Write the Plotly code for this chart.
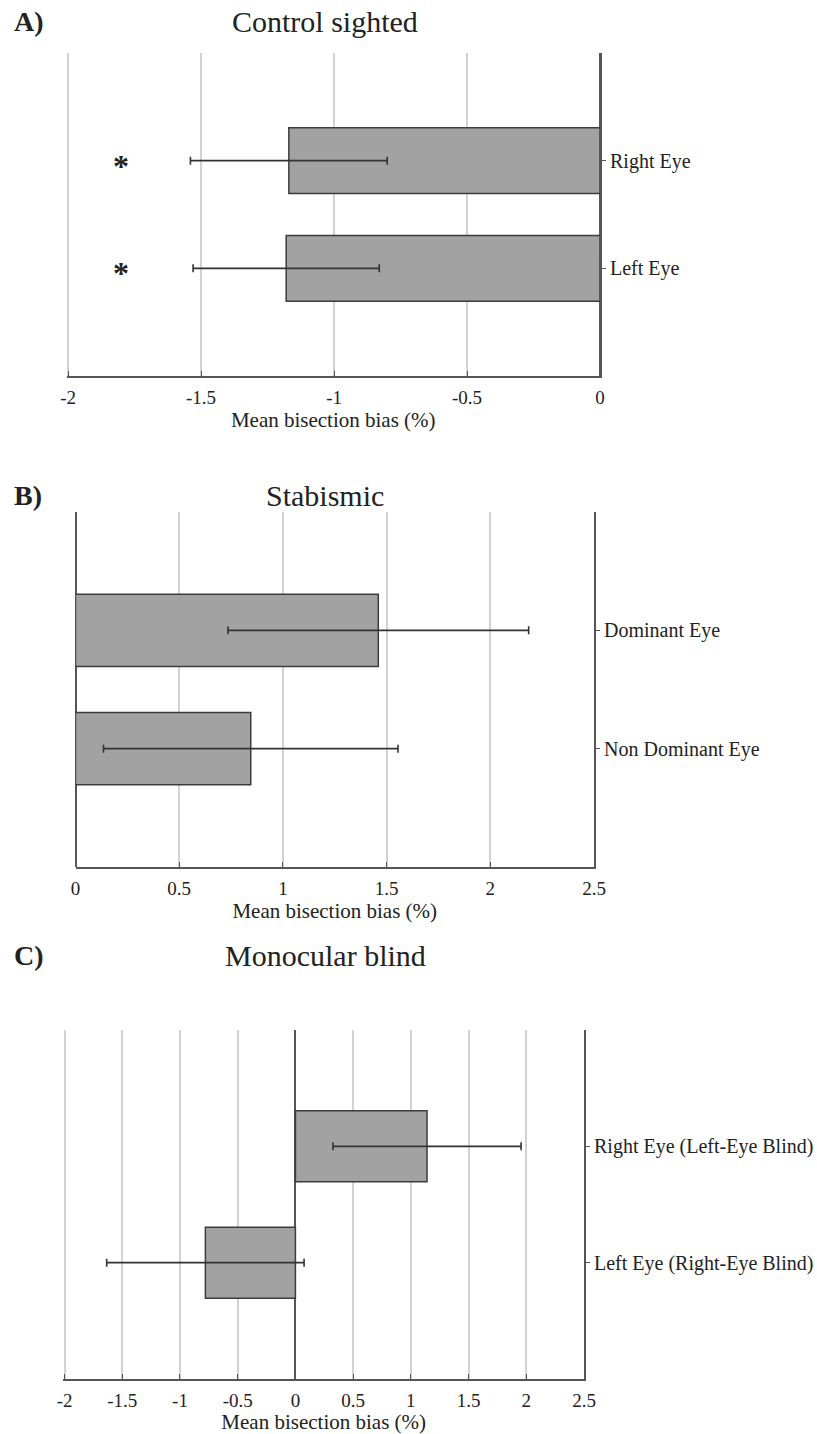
import plotly.graph_objects as go

W, H = 817, 1434
FONT = "'Liberation Serif', 'Times New Roman', Times, serif"

# ---------------- Data ----------------
# Panel A: Control sighted
a_cats = ["Left Eye", "Right Eye"]
a_vals = [-1.18, -1.17]
a_err = [0.35, 0.37]
a_sig_x = [-1.80, -1.80]
a_sig_text = ["*", "*"]
a_ticks = [-2, -1.5, -1, -0.5, 0]
a_ticklabels = ["-2", "-1.5", "-1", "-0.5", "0"]

# Panel B: Stabismic
b_cats = ["Non Dominant Eye", "Dominant Eye"]
b_vals = [0.845, 1.46]
b_err = [0.71, 0.725]
b_ticks = [0, 0.5, 1, 1.5, 2, 2.5]
b_ticklabels = ["0", "0.5", "1", "1.5", "2", "2.5"]

# Panel C: Monocular blind
c_cats = ["Left Eye (Right-Eye Blind)", "Right Eye (Left-Eye Blind)"]
c_vals = [-0.78, 1.14]
c_err = [0.855, 0.815]
c_ticks = [-2, -1.5, -1, -0.5, 0, 0.5, 1, 1.5, 2, 2.5]
c_ticklabels = ["-2", "-1.5", "-1", "-0.5", "0", "0.5", "1", "1.5", "2", "2.5"]

panel_letters = ["A)", "B)", "C)"]
panel_titles = ["Control sighted", "Stabismic", "Monocular blind"]
x_title = "Mean bisection bias (%)"

# ---------------- Styles ----------------
BAR_FILL = "#a2a2a2"
BAR_LINE = "#3c3c3c"
ERR_COL = "#333333"
GRID = "#d2d2d2"
AXL = "#555555"
TXT = "#222222"


def px_x(p):
    return p / W


def px_y(p):
    return 1 - p / H


fig = go.Figure()

panels = [
    dict(cats=a_cats, vals=a_vals, err=a_err, ticks=a_ticks, labels=a_ticklabels,
         rng=[-2.006, 0], xd=[66.5, 600], yd=[53, 376]),
    dict(cats=b_cats, vals=b_vals, err=b_err, ticks=b_ticks, labels=b_ticklabels,
         rng=[0, 2.5], xd=[75.5, 594], yd=[512, 867]),
    dict(cats=c_cats, vals=c_vals, err=c_err, ticks=c_ticks, labels=c_ticklabels,
         rng=[-2.01, 2.5], xd=[63.4, 584], yd=[1030, 1379]),
]

layout_axes = {}
for i, p in enumerate(panels):
    n = "" if i == 0 else str(i + 1)
    fig.add_trace(go.Bar(
        x=p["vals"], y=p["cats"], orientation="h",
        xaxis="x" + n, yaxis="y" + n, width=0.61,
        marker=dict(color=BAR_FILL, line=dict(color=BAR_LINE, width=1.5)),
        error_x=dict(type="data", array=p["err"], symmetric=True,
                     color=ERR_COL, thickness=1.6, width=4),
        showlegend=False, hoverinfo="skip",
    ))
    layout_axes["xaxis" + n] = dict(
        domain=[px_x(p["xd"][0]), px_x(p["xd"][1])],
        anchor="y" + n, range=p["rng"],
        tickmode="array", tickvals=p["ticks"], ticktext=p["labels"],
        showgrid=True, gridcolor=GRID, gridwidth=1.5,
        showline=True, linecolor=AXL, linewidth=2,
        ticks="inside", ticklen=5, tickcolor=AXL, tickwidth=1,
        zeroline=True, zerolinecolor=AXL, zerolinewidth=2,
        tickfont=dict(family=FONT, size=19, color=TXT),
        ticklabelstandoff=3,
        title=dict(text=x_title, font=dict(family=FONT, size=21, color=TXT), standoff=3),
        automargin=False, fixedrange=True,
    )
    layout_axes["yaxis" + n] = dict(
        domain=[px_y(p["yd"][1]), px_y(p["yd"][0])],
        anchor="x" + n, side="right", type="category",
        categoryorder="array", categoryarray=p["cats"], range=[-1, 2],
        showline=True, linecolor=AXL, linewidth=2,
        ticks="outside", ticklen=4, tickcolor=AXL, tickwidth=1,
        showgrid=False, zeroline=False,
        tickfont=dict(family=FONT, size=20, color=TXT),
        automargin=False, fixedrange=True,
    )

annotations = []
# significance asterisks (panel A), placed in data coordinates
for sx, sy, st in zip(a_sig_x, a_cats, a_sig_text):
    annotations.append(dict(
        text="<b>" + st + "</b>", x=sx, y=sy, xref="x", yref="y",
        xanchor="center", yanchor="middle", yshift=-5, showarrow=False,
        font=dict(family=FONT, size=32, color=TXT)))

title_y = [22, 495, 955]
for letter, title, ty in zip(panel_letters, panel_titles, title_y):
    annotations.append(dict(
        text="<b>" + letter + "</b>", x=px_x(12), y=px_y(ty), xref="paper", yref="paper",
        xanchor="left", yanchor="middle", showarrow=False,
        font=dict(family=FONT, size=28, color=TXT)))
    annotations.append(dict(
        text=title, x=px_x(325), y=px_y(ty), xref="paper", yref="paper",
        xanchor="center", yanchor="middle", showarrow=False,
        font=dict(family=FONT, size=30, color=TXT)))

fig.update_layout(
    width=W, height=H,
    margin=dict(l=0, r=0, t=0, b=0),
    paper_bgcolor="white", plot_bgcolor="white",
    bargap=0.4,
    annotations=annotations,
    **layout_axes,
)

fig.write_html("out.html", config={"displayModeBar": False})
